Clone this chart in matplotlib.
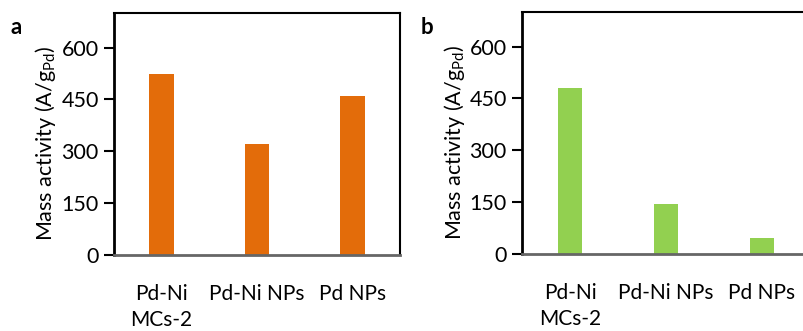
import matplotlib.pyplot as plt

categories = ["Pd-Ni\nMCs-2", "Pd-Ni NPs", "Pd NPs"]
mass_activity_a = [525, 320, 460]
mass_activity_b = [480, 145, 46]
y_ticks = [0, 150, 300, 450, 600]

plt.rcParams['font.family'] = ['Lato', 'DejaVu Sans']

fig = plt.figure(figsize=(8.04, 3.31), dpi=100)
W, H = 804, 331


def make_axes(left, right, top, bottom):
    return fig.add_axes([left / W, 1 - bottom / H, (right - left) / W, (bottom - top) / H])


def draw_panel(ax, values, color, letter, letter_x, label_x):
    x = range(len(categories))
    ax.bar(x, values, width=0.26, color=color, zorder=2)
    ax.set_xlim(-0.5, 2.5)
    ax.set_ylim(0, 700)
    ax.set_yticks(y_ticks)
    ax.tick_params(axis='y', direction='out', length=7, width=1.5,
                   labelsize=15.5, pad=4, color='black')
    ax.set_xticks(list(x))
    ax.set_xticklabels(categories, fontsize=15, linespacing=1.35, va='top')
    ax.tick_params(axis='x', length=0, pad=21)
    for s in ['left', 'top', 'right']:
        ax.spines[s].set_color('black')
    ax.spines['left'].set_linewidth(2)
    ax.spines['top'].set_linewidth(1.5)
    ax.spines['right'].set_linewidth(1.5)
    ax.spines['bottom'].set_color('#666666')
    ax.spines['bottom'].set_linewidth(2)
    ax.set_ylabel("Mass activity (A/g$_{\\mathregular{Pd}}$)", fontsize=15.5)
    ax.yaxis.set_label_coords(label_x, 0.46)
    fig.text(letter_x / W, 1 - 28 / H, letter, fontsize=16, fontweight='bold',
             ha='left', va='center')


ax_a = make_axes(114, 400, 13, 255)
draw_panel(ax_a, mass_activity_a, '#E36C0A', 'a', 11, -0.196)

ax_b = make_axes(522, 810, 12, 254)
draw_panel(ax_b, mass_activity_b, '#92D050', 'b', 421, -0.19)

fig.savefig('out.png', dpi=100)
